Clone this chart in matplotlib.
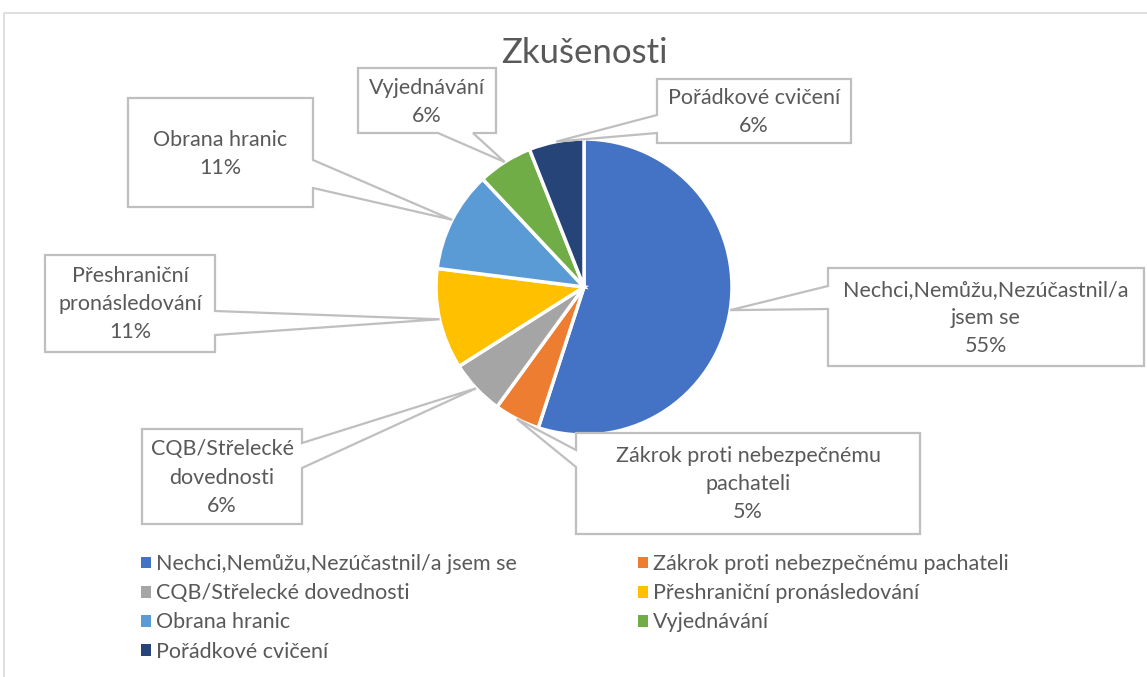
import matplotlib
matplotlib.use("Agg")
import numpy as np
import matplotlib.pyplot as plt
from matplotlib.patches import Polygon, Patch

W, H = 1147, 677

categories = [
    "Nechci,Nemůžu,Nezúčastnil/a jsem se",
    "Zákrok proti nebezpečnému pachateli",
    "CQB/Střelecké dovednosti",
    "Přeshraniční pronásledování",
    "Obrana hranic",
    "Vyjednávání",
    "Pořádkové cvičení",
]
values = [55, 5, 6, 11, 11, 6, 6]
# label text as wrapped inside the callouts
callout_names = [
    "Nechci,Nemůžu,Nezúčastnil/a\njsem se",
    "Zákrok proti nebezpečnému\npachateli",
    "CQB/Střelecké\ndovednosti",
    "Přeshraniční\npronásledování",
    "Obrana hranic",
    "Vyjednávání",
    "Pořádkové cvičení",
]
colors = ["#4472C4", "#ED7D31", "#A5A5A5", "#FFC000", "#5B9BD5", "#70AD47", "#264478"]

# callout boxes in pixel coords (x0, y0, x1, y1, side of pointer, pointer start, pointer end)
boxes = [
    (828, 268, 1144, 366, "left", 286, 309),
    (576, 433, 920, 534, "left", 450, 467),
    (142, 429, 302, 524, "right", 443, 468),
    (45, 255, 215, 352, "right", 311, 335),
    (128, 98, 313, 207, "right", 160, 188),
    (358, 68, 496, 133, "bottom", 438, 473),
    (657, 79, 851, 143, "left", 115, 133),
]

plt.rcParams["font.family"] = ["Lato", "DejaVu Sans"]
TXT = "#595959"
EDGE = "#BFBFBF"

fig = plt.figure(figsize=(W / 100, H / 100), dpi=100)
ax = fig.add_axes([0, 0, 1, 1])

cx, cy, r = 584, H - 287, 148
wedges, _ = ax.pie(values, colors=colors, startangle=90, counterclock=False,
                   center=(cx, cy), radius=r,
                   wedgeprops=dict(edgecolor="white", linewidth=2.5))
ax.set_xlim(0, W)
ax.set_ylim(0, H)
ax.set_aspect("equal")
ax.axis("off")

# chart frame
ax.plot([4, 4, W + 5], [-5, H - 13, H - 13], color="#D9D9D9", lw=1.2)

ax.text(584, H - 53, "Zkušenosti", ha="center", va="center", fontsize=25,
        color=TXT)


def callout(box, tip):
    x0, y0, x1, y1, side, p1, p2 = box
    y0, y1 = H - y0, H - y1
    if side == "left":
        pts = [(x0, y0), (x1, y0), (x1, y1), (x0, y1), (x0, H - p2), tip, (x0, H - p1)]
    elif side == "right":
        pts = [(x0, y0), (x1, y0), (x1, H - p1), tip, (x1, H - p2), (x1, y1), (x0, y1)]
    else:
        pts = [(x0, y0), (x1, y0), (x1, y1), (p2, y1), tip, (p1, y1), (x0, y1)]
    ax.add_patch(Polygon(pts, closed=True, facecolor="white", edgecolor=EDGE,
                         lw=1.6, zorder=3))


for w, box, name, v in zip(wedges, boxes, callout_names, values):
    mid = np.deg2rad((w.theta1 + w.theta2) / 2)
    tip = (cx + r * np.cos(mid), cy + r * np.sin(mid))
    callout(box, tip)
    x0, y0, x1, y1 = box[:4]
    ax.text((x0 + x1) / 2, H - (y0 + y1) / 2 - 1, f"{name}\n{v}%", ha="center",
            va="center", fontsize=15.5, color=TXT, linespacing=1.5, zorder=4)

handles = [Patch(facecolor=c) for c in colors]
order = [0, 2, 4, 6, 1, 3, 5]
leg = fig.legend([handles[i] for i in order], [categories[i] for i in order],
                 ncol=2, loc="upper left", bbox_to_anchor=(122 / W, 1 - 535 / H),
                 frameon=False, fontsize=15.5, handlelength=0.45, handleheight=0.45,
                 handletextpad=0.25, labelspacing=0.42, columnspacing=5.6,
                 labelcolor=TXT)

fig.savefig("out.png", dpi=100)
